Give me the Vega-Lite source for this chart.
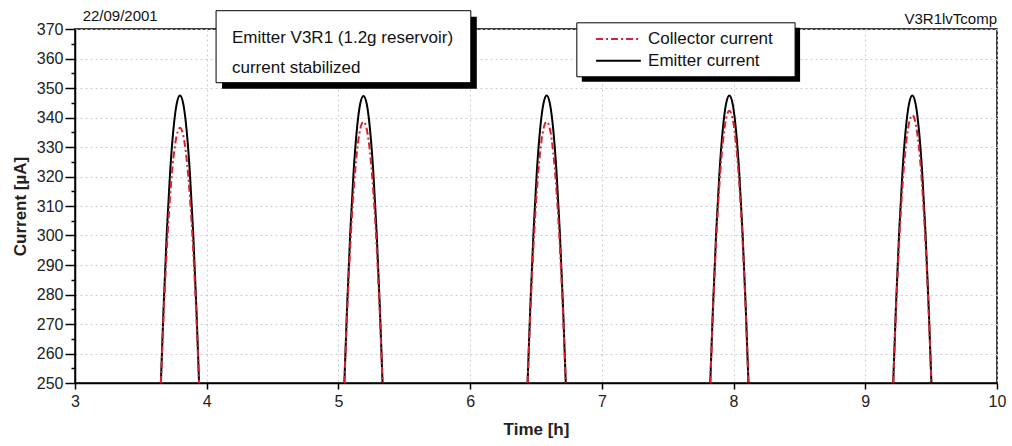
{
  "$schema": "https://vega.github.io/schema/vega-lite/v6.json",
  "width": 922,
  "height": 354,
  "autosize": "none",
  "padding": {"left": 75, "top": 29, "right": 15, "bottom": 63},
  "data": {
    "values": [
      {"t": 3.652, "cycle": 1, "emitter": 250, "collector": 250},
      {"t": 3.672, "cycle": 1, "emitter": 275.0, "collector": 272.2},
      {"t": 3.697, "cycle": 1, "emitter": 301.1, "collector": 295.3},
      {"t": 3.722, "cycle": 1, "emitter": 321.4, "collector": 313.3},
      {"t": 3.747, "cycle": 1, "emitter": 335.9, "collector": 326.2},
      {"t": 3.772, "cycle": 1, "emitter": 344.6, "collector": 333.9},
      {"t": 3.797, "cycle": 1, "emitter": 347.5, "collector": 336.5},
      {"t": 3.822, "cycle": 1, "emitter": 344.6, "collector": 333.9},
      {"t": 3.847, "cycle": 1, "emitter": 335.9, "collector": 326.2},
      {"t": 3.872, "cycle": 1, "emitter": 321.4, "collector": 313.3},
      {"t": 3.897, "cycle": 1, "emitter": 301.1, "collector": 295.3},
      {"t": 3.922, "cycle": 1, "emitter": 275.0, "collector": 272.2},
      {"t": 3.942, "cycle": 1, "emitter": 250, "collector": 250},
      {"t": 5.045, "cycle": 2, "emitter": 250, "collector": 250},
      {"t": 5.065, "cycle": 2, "emitter": 275.0, "collector": 272.7},
      {"t": 5.09, "cycle": 2, "emitter": 301.1, "collector": 296.4},
      {"t": 5.115, "cycle": 2, "emitter": 321.4, "collector": 314.9},
      {"t": 5.14, "cycle": 2, "emitter": 335.9, "collector": 328.1},
      {"t": 5.165, "cycle": 2, "emitter": 344.6, "collector": 336.0},
      {"t": 5.19, "cycle": 2, "emitter": 347.3, "collector": 338.6},
      {"t": 5.215, "cycle": 2, "emitter": 344.6, "collector": 336.0},
      {"t": 5.24, "cycle": 2, "emitter": 335.9, "collector": 328.1},
      {"t": 5.265, "cycle": 2, "emitter": 321.4, "collector": 314.9},
      {"t": 5.29, "cycle": 2, "emitter": 301.1, "collector": 296.4},
      {"t": 5.315, "cycle": 2, "emitter": 275.0, "collector": 272.7},
      {"t": 5.335, "cycle": 2, "emitter": 250, "collector": 250},
      {"t": 6.436, "cycle": 3, "emitter": 250, "collector": 250},
      {"t": 6.456, "cycle": 3, "emitter": 275.0, "collector": 272.7},
      {"t": 6.481, "cycle": 3, "emitter": 301.1, "collector": 296.4},
      {"t": 6.506, "cycle": 3, "emitter": 321.4, "collector": 314.9},
      {"t": 6.531, "cycle": 3, "emitter": 335.9, "collector": 328.1},
      {"t": 6.556, "cycle": 3, "emitter": 344.6, "collector": 336.0},
      {"t": 6.581, "cycle": 3, "emitter": 347.5, "collector": 338.6},
      {"t": 6.606, "cycle": 3, "emitter": 344.6, "collector": 336.0},
      {"t": 6.631, "cycle": 3, "emitter": 335.9, "collector": 328.1},
      {"t": 6.656, "cycle": 3, "emitter": 321.4, "collector": 314.9},
      {"t": 6.681, "cycle": 3, "emitter": 301.1, "collector": 296.4},
      {"t": 6.706, "cycle": 3, "emitter": 275.0, "collector": 272.7},
      {"t": 6.726, "cycle": 3, "emitter": 250, "collector": 250},
      {"t": 7.823, "cycle": 4, "emitter": 250, "collector": 250},
      {"t": 7.843, "cycle": 4, "emitter": 275.0, "collector": 273.7},
      {"t": 7.868, "cycle": 4, "emitter": 301.1, "collector": 298.4},
      {"t": 7.893, "cycle": 4, "emitter": 321.4, "collector": 317.6},
      {"t": 7.918, "cycle": 4, "emitter": 335.9, "collector": 331.3},
      {"t": 7.943, "cycle": 4, "emitter": 344.6, "collector": 339.6},
      {"t": 7.968, "cycle": 4, "emitter": 347.5, "collector": 342.3},
      {"t": 7.993, "cycle": 4, "emitter": 344.6, "collector": 339.6},
      {"t": 8.018, "cycle": 4, "emitter": 335.9, "collector": 331.3},
      {"t": 8.043, "cycle": 4, "emitter": 321.4, "collector": 317.6},
      {"t": 8.068, "cycle": 4, "emitter": 301.1, "collector": 298.4},
      {"t": 8.093, "cycle": 4, "emitter": 275.0, "collector": 273.7},
      {"t": 8.113, "cycle": 4, "emitter": 250, "collector": 250},
      {"t": 9.212, "cycle": 5, "emitter": 250, "collector": 250},
      {"t": 9.232, "cycle": 5, "emitter": 275.0, "collector": 273.3},
      {"t": 9.257, "cycle": 5, "emitter": 301.1, "collector": 297.6},
      {"t": 9.282, "cycle": 5, "emitter": 321.4, "collector": 316.5},
      {"t": 9.307, "cycle": 5, "emitter": 335.9, "collector": 330.0},
      {"t": 9.332, "cycle": 5, "emitter": 344.6, "collector": 338.1},
      {"t": 9.357, "cycle": 5, "emitter": 347.5, "collector": 340.8},
      {"t": 9.382, "cycle": 5, "emitter": 344.6, "collector": 338.1},
      {"t": 9.407, "cycle": 5, "emitter": 335.9, "collector": 330.0},
      {"t": 9.432, "cycle": 5, "emitter": 321.4, "collector": 316.5},
      {"t": 9.457, "cycle": 5, "emitter": 301.1, "collector": 297.6},
      {"t": 9.482, "cycle": 5, "emitter": 275.0, "collector": 273.3},
      {"t": 9.502, "cycle": 5, "emitter": 250, "collector": 250}
    ]
  },
  "layer": [
    {
      "mark": {"type": "line", "color": "black", "strokeWidth": 2, "interpolate": "monotone"},
      "encoding": {
        "x": {
          "field": "t",
          "type": "quantitative",
          "title": "Time [h]",
          "scale": {"domain": [3, 10], "nice": false, "zero": false},
          "axis": {
            "values": [3, 3.5, 4, 4.5, 5, 5.5, 6, 6.5, 7, 7.5, 8, 8.5, 9, 9.5, 10],
            "tickCount": 15,
            "format": "d",
            "labelExpr": "datum.value % 1 ? '' : datum.label",
            "tickSize": {"condition": {"test": "datum.value % 1", "value": 3}, "value": 6},
            "gridOpacity": {"condition": {"test": "datum.value % 1", "value": 0}, "value": 1},
            "labelOverlap": false,
            "labelPadding": 4,
            "titlePadding": 12
          }
        },
        "y": {
          "field": "emitter",
          "type": "quantitative",
          "title": "Current [µA]",
          "scale": {"domain": [250, 370], "nice": false, "zero": false},
          "axis": {
            "values": [250, 255, 260, 265, 270, 275, 280, 285, 290, 295, 300, 305, 310, 315, 320, 325, 330, 335, 340, 345, 350, 355, 360, 365, 370],
            "tickCount": 25,
            "format": "d",
            "labelExpr": "datum.value % 10 ? '' : datum.label",
            "tickSize": {"condition": {"test": "datum.value % 10", "value": 4}, "value": 10},
            "gridOpacity": {"condition": {"test": "datum.value % 10", "value": 0}, "value": 1},
            "labelOverlap": false,
            "labelPadding": 2,
            "titlePadding": 7
          }
        },
        "detail": {"field": "cycle", "type": "nominal"}
      }
    },
    {
      "mark": {"type": "line", "color": "#d9202b", "strokeWidth": 2, "strokeDash": [7, 3, 2, 3], "interpolate": "monotone"},
      "encoding": {
        "x": {"field": "t", "type": "quantitative", "title": "Time [h]"},
        "y": {"field": "collector", "type": "quantitative", "title": "Current [µA]"},
        "detail": {"field": "cycle", "type": "nominal"}
      }
    },
    {
      "data": {"values": [{"box": "note"}]},
      "layer": [
        {
          "mark": {"type": "rect", "fill": "black", "xOffset": 6, "x2Offset": 6, "yOffset": 6, "y2Offset": 6},
          "encoding": {
            "x": {"datum": 4.071}, "x2": {"datum": 6.005},
            "y": {"datum": 376.2}, "y2": {"datum": 351.8}
          }
        },
        {
          "mark": {"type": "rect", "fill": "white", "stroke": "black", "strokeWidth": 1},
          "encoding": {
            "x": {"datum": 4.071}, "x2": {"datum": 6.005},
            "y": {"datum": 376.2}, "y2": {"datum": 351.8}
          }
        },
        {
          "mark": {"type": "text", "align": "left", "baseline": "middle", "font": "Liberation Sans", "fontSize": 17, "lineHeight": 30, "color": "#111"},
          "encoding": {
            "x": {"datum": 4.192},
            "y": {"datum": 366.9},
            "text": {"value": ["Emitter V3R1 (1.2g reservoir)", "current stabilized"]}
          }
        },
        {
          "mark": {"type": "rect", "fill": "black", "xOffset": 5, "x2Offset": 5, "yOffset": 5, "y2Offset": 5},
          "encoding": {
            "x": {"datum": 6.81}, "x2": {"datum": 8.467},
            "y": {"datum": 372.1}, "y2": {"datum": 353.8}
          }
        },
        {
          "mark": {"type": "rect", "fill": "white", "stroke": "black", "strokeWidth": 1},
          "encoding": {
            "x": {"datum": 6.81}, "x2": {"datum": 8.467},
            "y": {"datum": 372.1}, "y2": {"datum": 353.8}
          }
        },
        {
          "mark": {"type": "rule", "color": "#d9202b", "strokeWidth": 2, "strokeDash": [7, 3, 2, 3]},
          "encoding": {
            "x": {"datum": 6.956}, "x2": {"datum": 7.296},
            "y": {"datum": 366.6}
          }
        },
        {
          "mark": {"type": "rule", "color": "black", "strokeWidth": 2},
          "encoding": {
            "x": {"datum": 6.956}, "x2": {"datum": 7.296},
            "y": {"datum": 359.2}
          }
        },
        {
          "mark": {"type": "text", "align": "left", "baseline": "middle", "font": "Liberation Sans", "fontSize": 17, "color": "#111"},
          "encoding": {
            "x": {"datum": 7.351},
            "y": {"datum": 366.6},
            "text": {"value": "Collector current"}
          }
        },
        {
          "mark": {"type": "text", "align": "left", "baseline": "middle", "font": "Liberation Sans", "fontSize": 17, "color": "#111"},
          "encoding": {
            "x": {"datum": 7.351},
            "y": {"datum": 359.2},
            "text": {"value": "Emitter current"}
          }
        },
        {
          "mark": {"type": "text", "align": "left", "baseline": "middle", "font": "Liberation Sans", "fontSize": 15, "color": "#111"},
          "encoding": {
            "x": {"datum": 3.058},
            "y": {"datum": 374.4},
            "text": {"value": "22/09/2001"}
          }
        },
        {
          "mark": {"type": "text", "align": "right", "baseline": "middle", "font": "Liberation Sans", "fontSize": 15, "color": "#111"},
          "encoding": {
            "x": {"datum": 10},
            "y": {"datum": 373.3},
            "text": {"value": "V3R1lvTcomp"}
          }
        }
      ]
    }
  ],
  "config": {
    "view": {"stroke": "black", "strokeWidth": 1.5},
    "axis": {
      "labelFont": "Liberation Sans",
      "labelFontSize": 16,
      "labelColor": "#222",
      "titleFont": "Liberation Sans",
      "titleFontSize": 17,
      "titleFontWeight": "bold",
      "titleColor": "#222",
      "domainColor": "black",
      "domainWidth": 1.5,
      "tickColor": "black",
      "tickWidth": 1.5,
      "gridColor": "#cccccc",
      "gridDash": [2, 3],
      "labelFlush": false
    }
  }
}
